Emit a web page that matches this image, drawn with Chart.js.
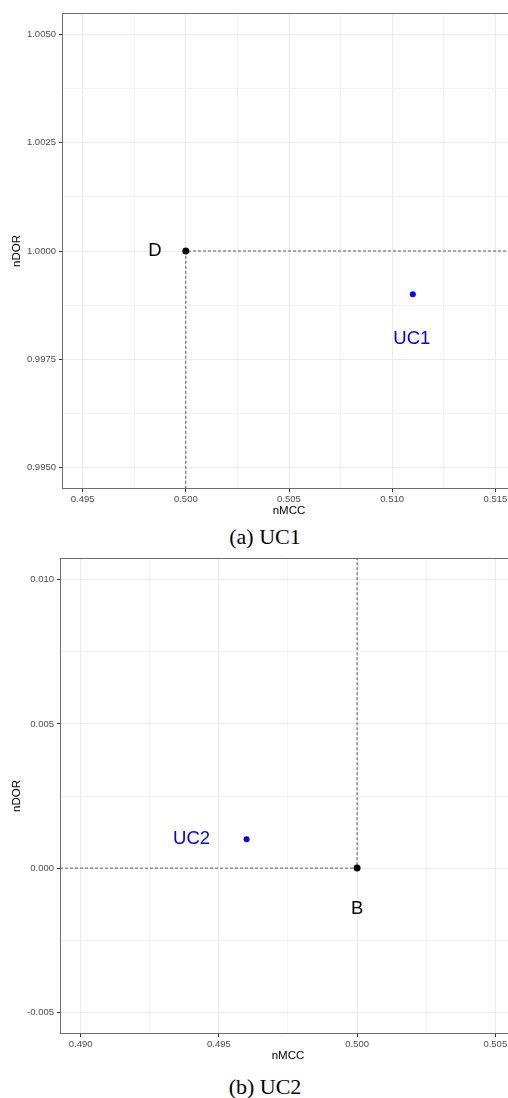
<!DOCTYPE html>
<html>
<head>
<meta charset="utf-8">
<script src="https://cdn.jsdelivr.net/npm/chart.js@4"></script>
<style>
  body { margin: 0; background: #fff; overflow: hidden; width: 508px; height: 1098px; position: relative; }
  canvas { position: absolute; left: 0; }
  #c1 { top: 0; }
  #c2 { top: 545px; }
  .caption { position: absolute; left: 0; width: 530px; text-align: center;
             font-family: 'Liberation Serif', 'Times New Roman', serif; font-size: 22px; color: #000; }
</style>
</head>
<body>
<canvas id="c1" width="520" height="520"></canvas>
<div class="caption" style="top:524px">(a) UC1</div>
<canvas id="c2" width="520" height="520"></canvas>
<div class="caption" style="top:1074px">(b) UC2</div>
<script>
// ---- data: panel (a) UC1 ----
const names1 = ['D', 'UC1'];
const x1 = [0.500, 0.511];
const y1 = [1.000, 0.999];
const xTicks1 = [0.495, 0.4975, 0.500, 0.5025, 0.505, 0.5075, 0.510, 0.5125, 0.515];
const xLabels1 = ['0.495', '', '0.500', '', '0.505', '', '0.510', '', '0.515'];
const yTicks1 = [0.995, 0.99625, 0.9975, 0.99875, 1.000, 1.00125, 1.0025, 1.00375, 1.005];
const yLabels1 = ['0.9950', '', '0.9975', '', '1.0000', '', '1.0025', '', '1.0050'];
const xRange1 = [0.494, 0.516];
const yRange1 = [0.9945, 1.0055];

// ---- data: panel (b) UC2 ----
const names2 = ['B', 'UC2'];
const x2 = [0.500, 0.496];
const y2 = [0.000, 0.001];
const xTicks2 = [0.490, 0.4925, 0.495, 0.4975, 0.500, 0.5025, 0.505];
const xLabels2 = ['0.490', '', '0.495', '', '0.500', '', '0.505'];
const yTicks2 = [-0.005, -0.0025, 0.000, 0.0025, 0.005, 0.0075, 0.010];
const yLabels2 = ['-0.005', '', '0.000', '', '0.005', '', '0.010'];
const xRange2 = [0.48925, 0.50575];
const yRange2 = [-0.00575, 0.01075];

const FONT = "'Liberation Sans', Arial, Helvetica, sans-serif";

function labelFor(ticks, labels, v) {
    const i = ticks.findIndex(t => Math.abs(t - v) < 1e-9);
    return i >= 0 ? labels[i] : '';
}

// draws the panel border and the point labels
const annotate = {
    id: 'annotate',
    afterDatasetsDraw(chart, args, opts) {
        const ctx = chart.ctx;
        const a = chart.chartArea;
        const xs = chart.scales.x, ys = chart.scales.y;
        ctx.save();
        ctx.font = '18.5px ' + FONT;
        ctx.textAlign = 'center';
        ctx.textBaseline = 'middle';
        opts.names.forEach((n, i) => {
            ctx.fillStyle = opts.colors[i];
            ctx.fillText(n, xs.getPixelForValue(opts.xs[i]) + opts.offsets[i][0],
                            ys.getPixelForValue(opts.ys[i]) + opts.offsets[i][1]);
        });
        ctx.strokeStyle = '#6e6e6e';
        ctx.lineWidth = 1;
        ctx.strokeRect(a.left + 0.5, a.top + 0.5, a.right - a.left - 1, a.bottom - a.top - 1);
        ctx.restore();
    }
};

function makeChart(id, p) {
    const ctx = document.getElementById(id).getContext('2d');
    const axis = (ticks, labels, range, title, isX) => ({
        type: 'linear',
        min: range[0],
        max: range[1],
        afterBuildTicks: s => { s.ticks = ticks.map(v => ({ value: v })); },
        afterFit: s => {
            if (isX) s.height = 31; else s.width = p.left;
        },
        grid: {
            color: c => labelFor(ticks, labels, c.tick.value) ? '#ebebeb' : '#f3f3f3',
            lineWidth: 1,
            tickLength: 3,
            tickColor: c => labelFor(ticks, labels, c.tick.value) ? '#333' : 'rgba(0,0,0,0)'
        },
        border: { display: false },
        ticks: {
            autoSkip: false,
            maxRotation: 0,
            padding: isX ? 2 : 3,
            color: '#4d4d4d',
            font: { family: FONT, size: 9.5 },
            callback: v => labelFor(ticks, labels, v)
        },
        title: {
            display: true,
            text: title,
            color: '#000',
            font: { family: FONT, size: 11.5 },
            padding: isX ? { top: 0, bottom: 2 } : { top: 10, bottom: 0 }
        }
    });

    return new Chart(ctx, {
        type: 'scatter',
        data: {
            datasets: [
                {
                    // dashed guide lines through the reference point
                    data: p.guide,
                    showLine: true,
                    borderColor: '#333',
                    borderWidth: 0.8,
                    borderDash: [3, 2],
                    pointRadius: 0,
                    spanGaps: false
                },
                {
                    data: p.xs.map((x, i) => ({ x: x, y: p.ys[i] })),
                    pointRadius: [3.5, 3],
                    pointBackgroundColor: p.colors,
                    pointBorderWidth: 0
                }
            ]
        },
        options: {
            responsive: false,
            animation: false,
            layout: { padding: { top: 13, right: 0, left: 0, bottom: 0 } },
            plugins: {
                legend: { display: false },
                tooltip: { enabled: false },
                annotate: { names: p.names, xs: p.xs, ys: p.ys, colors: p.colors, offsets: p.offsets }
            },
            scales: {
                x: axis(p.xTicks, p.xLabels, p.xRange, 'nMCC', true),
                y: axis(p.yTicks, p.yLabels, p.yRange, 'nDOR', false)
            }
        },
        plugins: [annotate]
    });
}

makeChart('c1', {
    names: names1, xs: x1, ys: y1,
    xTicks: xTicks1, xLabels: xLabels1, yTicks: yTicks1, yLabels: yLabels1,
    xRange: xRange1, yRange: yRange1,
    guide: [{ x: xRange1[1], y: y1[0] }, { x: x1[0], y: y1[0] }, { x: x1[0], y: yRange1[0] }],
    colors: ['#000000', '#0000ff'],
    offsets: [[-31, 0], [-1, 45]],
    left: 62
});

makeChart('c2', {
    names: names2, xs: x2, ys: y2,
    xTicks: xTicks2, xLabels: xLabels2, yTicks: yTicks2, yLabels: yLabels2,
    xRange: xRange2, yRange: yRange2,
    guide: [{ x: xRange2[0], y: y2[0] }, { x: x2[0], y: y2[0] }, { x: x2[0], y: yRange2[1] }],
    colors: ['#000000', '#0000ff'],
    offsets: [[0, 41], [-55, 0]],
    left: 60
});
</script>
</body>
</html>
